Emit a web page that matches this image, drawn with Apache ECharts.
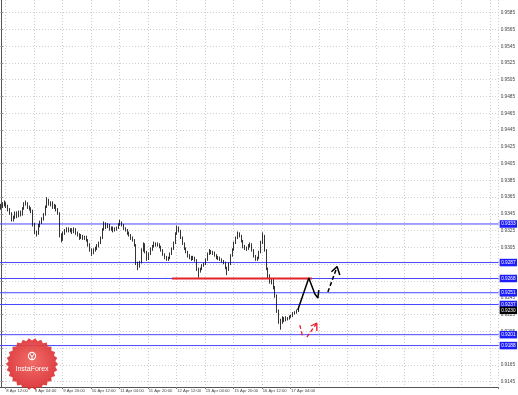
<!DOCTYPE html>
<html><head><meta charset="utf-8">
<script src="https://cdn.jsdelivr.net/npm/echarts@6/dist/echarts.min.js"></script>
<style>html,body{margin:0;padding:0;background:#fff}#c{width:518px;height:395px}</style>
</head><body><div id="c"></div>
<script>
// x-axis tick labels (every 16 H1 bars, first at bar 3)
const tickLabels = ['8 Apr 12:00','9 Apr 04:00','9 Apr 20:00','10 Apr 12:00','11 Apr 04:00','11 Apr 20:00','12 Apr 12:00','15 Apr 04:00','15 Apr 20:00','16 Apr 12:00','17 Apr 04:00'];
const firstTickBar = 3, barsPerTick = 16, totalSlots = 280;
// price-axis tick labels
const yTicks = [0.9145,0.9165,0.9185,0.9205,0.9225,0.9245,0.9265,0.9285,0.9305,0.9325,0.9345,0.9365,
  0.9385,0.9405,0.9425,0.9445,0.9465,0.9485,0.9505,0.9525,0.9545,0.9565,0.9585];
// H1 candles: [open, close, low, high]
const candles = [
[0.9352,0.9354,0.9350,0.9357],[0.9354,0.9356,0.9352,0.9359],[0.9356,0.9358,0.9354,0.9361],[0.9358,0.9354,0.9352,0.9359],
[0.9354,0.9350,0.9348,0.9356],[0.9350,0.9346,0.9344,0.9352],[0.9346,0.9338,0.9336,0.9347],[0.9338,0.9340,0.9336,0.9343],
[0.9340,0.9346,0.9339,0.9348],[0.9346,0.9342,0.9340,0.9348],[0.9342,0.9347,0.9341,0.9349],[0.9347,0.9344,0.9342,0.9349],
[0.9344,0.9351,0.9343,0.9353],[0.9351,0.9357,0.9350,0.9359],[0.9357,0.9358,0.9355,0.9361],[0.9358,0.9353,0.9351,0.9359],
[0.9353,0.9351,0.9349,0.9355],[0.9351,0.9349,0.9346,0.9353],[0.9349,0.9332,0.9330,0.9350],[0.9332,0.9323,0.9321,0.9334],
[0.9323,0.9321,0.9318,0.9325],[0.9321,0.9331,0.9320,0.9333],[0.9331,0.9335,0.9329,0.9337],[0.9335,0.9339,0.9333,0.9341],
[0.9339,0.9344,0.9337,0.9346],[0.9344,0.9353,0.9343,0.9355],[0.9353,0.9362,0.9352,0.9365],[0.9362,0.9357,0.9355,0.9363],
[0.9357,0.9358,0.9354,0.9360],[0.9358,0.9353,0.9351,0.9360],[0.9353,0.9355,0.9351,0.9357],[0.9355,0.9350,0.9348,0.9356],
[0.9350,0.9346,0.9344,0.9352],[0.9346,0.9320,0.9317,0.9347],[0.9320,0.9314,0.9311,0.9322],[0.9314,0.9322,0.9313,0.9324],
[0.9322,0.9325,0.9320,0.9327],[0.9325,0.9327,0.9323,0.9329],[0.9327,0.9325,0.9323,0.9329],[0.9325,0.9326,0.9323,0.9328],
[0.9326,0.9323,0.9321,0.9328],[0.9323,0.9327,0.9322,0.9329],[0.9327,0.9322,0.9320,0.9328],[0.9322,0.9320,0.9318,0.9324],
[0.9320,0.9316,0.9314,0.9322],[0.9316,0.9319,0.9315,0.9321],[0.9319,0.9316,0.9314,0.9320],[0.9316,0.9317,0.9314,0.9319],
[0.9317,0.9314,0.9312,0.9319],[0.9314,0.9309,0.9306,0.9315],[0.9309,0.9303,0.9300,0.9310],[0.9303,0.9298,0.9295,0.9304],
[0.9298,0.9302,0.9297,0.9304],[0.9302,0.9304,0.9300,0.9306],[0.9304,0.9307,0.9302,0.9309],[0.9307,0.9310,0.9305,0.9312],
[0.9310,0.9316,0.9309,0.9318],[0.9316,0.9326,0.9315,0.9328],[0.9326,0.9334,0.9325,0.9336],[0.9334,0.9329,0.9327,0.9335],
[0.9329,0.9332,0.9328,0.9334],[0.9332,0.9327,0.9325,0.9333],[0.9327,0.9328,0.9325,0.9330],[0.9328,0.9325,0.9323,0.9330],
[0.9325,0.9327,0.9324,0.9329],[0.9327,0.9328,0.9325,0.9330],[0.9328,0.9332,0.9327,0.9334],[0.9332,0.9335,0.9331,0.9338],
[0.9335,0.9332,0.9330,0.9336],[0.9332,0.9328,0.9326,0.9333],[0.9328,0.9326,0.9324,0.9329],[0.9326,0.9322,0.9320,0.9327],
[0.9322,0.9320,0.9318,0.9324],[0.9320,0.9316,0.9314,0.9321],[0.9316,0.9314,0.9312,0.9318],[0.9314,0.9308,0.9306,0.9315],
[0.9308,0.9286,0.9284,0.9309],[0.9286,0.9282,0.9278,0.9288],[0.9282,0.9287,0.9281,0.9289],[0.9287,0.9302,0.9286,0.9304],
[0.9302,0.9309,0.9300,0.9311],[0.9309,0.9300,0.9298,0.9310],[0.9300,0.9291,0.9289,0.9301],[0.9291,0.9297,0.9290,0.9299],
[0.9297,0.9303,0.9296,0.9305],[0.9303,0.9306,0.9301,0.9308],[0.9306,0.9310,0.9305,0.9312],[0.9310,0.9308,0.9306,0.9311],
[0.9308,0.9309,0.9306,0.9311],[0.9309,0.9306,0.9304,0.9310],[0.9306,0.9302,0.9300,0.9307],[0.9302,0.9297,0.9295,0.9303],
[0.9297,0.9293,0.9291,0.9298],[0.9293,0.9291,0.9289,0.9295],[0.9291,0.9292,0.9289,0.9294],[0.9292,0.9297,0.9291,0.9299],
[0.9297,0.9303,0.9296,0.9305],[0.9303,0.9310,0.9302,0.9312],[0.9310,0.9321,0.9309,0.9323],[0.9321,0.9328,0.9320,0.9331],
[0.9328,0.9325,0.9323,0.9330],[0.9325,0.9317,0.9315,0.9326],[0.9317,0.9310,0.9308,0.9318],[0.9310,0.9304,0.9302,0.9311],
[0.9304,0.9300,0.9298,0.9305],[0.9300,0.9295,0.9293,0.9301],[0.9295,0.9293,0.9291,0.9297],[0.9293,0.9291,0.9289,0.9295],
[0.9291,0.9293,0.9290,0.9295],[0.9293,0.9290,0.9288,0.9294],[0.9290,0.9280,0.9277,0.9291],[0.9280,0.9276,0.9269,0.9281],
[0.9276,0.9279,0.9275,0.9281],[0.9279,0.9283,0.9278,0.9285],[0.9283,0.9285,0.9282,0.9287],[0.9285,0.9290,0.9284,0.9292],
[0.9290,0.9297,0.9289,0.9299],[0.9297,0.9301,0.9296,0.9303],[0.9301,0.9299,0.9297,0.9302],[0.9299,0.9298,0.9296,0.9301],
[0.9298,0.9296,0.9294,0.9300],[0.9296,0.9293,0.9291,0.9297],[0.9293,0.9292,0.9290,0.9295],[0.9292,0.9291,0.9289,0.9294],
[0.9291,0.9289,0.9287,0.9292],[0.9289,0.9287,0.9285,0.9290],[0.9287,0.9281,0.9279,0.9288],[0.9281,0.9278,0.9272,0.9282],
[0.9278,0.9285,0.9277,0.9287],[0.9285,0.9295,0.9284,0.9297],[0.9295,0.9302,0.9294,0.9304],[0.9302,0.9310,0.9301,0.9312],
[0.9310,0.9316,0.9309,0.9318],[0.9316,0.9321,0.9315,0.9324],[0.9321,0.9319,0.9317,0.9323],[0.9319,0.9313,0.9311,0.9320],
[0.9313,0.9306,0.9304,0.9314],[0.9306,0.9304,0.9302,0.9308],[0.9304,0.9303,0.9301,0.9306],[0.9303,0.9307,0.9302,0.9309],
[0.9307,0.9309,0.9305,0.9311],[0.9309,0.9302,0.9300,0.9310],[0.9302,0.9295,0.9293,0.9303],[0.9295,0.9291,0.9289,0.9296],
[0.9291,0.9292,0.9289,0.9294],[0.9292,0.9299,0.9291,0.9301],[0.9299,0.9310,0.9298,0.9313],[0.9310,0.9319,0.9309,0.9323],
[0.9319,0.9302,0.9300,0.9320],[0.9302,0.9280,0.9278,0.9303],[0.9280,0.9271,0.9268,0.9281],[0.9271,0.9265,0.9262,0.9273],
[0.9265,0.9266,0.9261,0.9268],[0.9266,0.9258,0.9255,0.9268],[0.9258,0.9248,0.9245,0.9259],[0.9248,0.9230,0.9227,0.9249],
[0.9230,0.9218,0.9214,0.9231],[0.9218,0.9216,0.9207,0.9220],[0.9216,0.9221,0.9214,0.9223],[0.9221,0.9218,0.9216,0.9222],
[0.9218,0.9221,0.9217,0.9223],[0.9221,0.9220,0.9218,0.9222],[0.9220,0.9222,0.9219,0.9224],[0.9222,0.9223,0.9221,0.9225],
[0.9223,0.9226,0.9222,0.9228],[0.9226,0.9227,0.9225,0.9229],[0.9227,0.9229,0.9226,0.9231],[0.9229,0.9230,0.9228,0.9232]
];
// horizontal levels (blue) and current price
const levels = [0.9333, 0.9287, 0.9268, 0.9251, 0.9237, 0.9201, 0.9188];
const currentPrice = 0.9230;
// drawings: [bar index, price]
const resistanceLine = [[96.0, 0.9268], [174.6, 0.9268]];
const mainPath = [[166.7, 0.92304], [172.9, 0.92686], [176.3, 0.92495], [178.0, 0.92447], [178.5, 0.92543]];
const mainUp = [[183.6, 0.92519], [188.8, 0.92821]];
const mainUpHead = [[185.6, 0.92761], [188.8, 0.92821], [190.3, 0.92722]];
const altDown = [[167.85, 0.92125], [169.5, 0.91982]];
const altUp = [[171.8, 0.91980], [177.4, 0.92149]];
const altUpHead = [[174.0, 0.92113], [177.4, 0.92149], [177.4, 0.92054]];

const FONT = 'Liberation Sans';
const cats = [];
for (let i = 0; i < totalSlots; i++) cats.push(String(i));
const isTick = idx => idx >= firstTickBar && (idx - firstTickBar) % barsPerTick === 0;
const isLabel = idx => isTick(idx) && (idx - firstTickBar) / barsPerTick < tickLabels.length;
const xL = -0.5, xR = totalSlots - 0.5;

const chart = echarts.init(document.getElementById('c'), null, {renderer: 'canvas'});

// logo starburst shape
const star = [];
const N = 26, cx = 32, cy = 364;
for (let k = 0; k < 2 * N; k++) {
  const a = k * Math.PI / N;
  const r = k % 2 === 0 ? 26 : 23.5;
  star.push([cx + r * Math.cos(a), cy + r * Math.sin(a)]);
}

function levelSeries(p, lineColor, bg, opacity) {
  return {
    type: 'line', xAxisIndex: 1, data: [[xL, p], [xR, p]], symbol: 'none', silent: true, z: 2,
    lineStyle: {color: lineColor, width: 1, opacity: opacity},
    endLabel: {show: true, formatter: p.toFixed(4), color: '#fff', backgroundColor: bg,
      fontSize: 4.7, fontFamily: FONT, padding: [1.5, 1.5, 1, 1.5], distance: 1}
  };
}

const series = [{
  type: 'candlestick', xAxisIndex: 0, barWidth: 1,
  data: candles,
  itemStyle: {color: '#000', color0: '#000', borderColor: '#000', borderColor0: '#000', borderWidth: 0.8},
  z: 3
}];
levels.forEach(p => series.push(levelSeries(p, '#4646ff', '#1c1cff', 1)));
series.push(levelSeries(currentPrice, '#000', '#000', 0));
series.push(
  {type: 'line', xAxisIndex: 1, data: resistanceLine, symbol: 'none', z: 4, lineStyle: {color: '#e3232b', width: 2}},
  {type: 'line', xAxisIndex: 1, data: mainPath, symbol: 'none', z: 5, lineStyle: {color: '#000', width: 1.5}},
  {type: 'line', xAxisIndex: 1, data: mainUp, symbol: 'none', z: 5, lineStyle: {color: '#000', width: 1.5, type: [4, 2.5]}},
  {type: 'line', xAxisIndex: 1, data: mainUpHead, symbol: 'none', z: 5, lineStyle: {color: '#000', width: 1.5}},
  {type: 'line', xAxisIndex: 1, data: altDown, symbol: 'none', z: 5, lineStyle: {color: '#ee1c25', width: 1.3, type: [4, 2.5]}},
  {type: 'line', xAxisIndex: 1, data: altUp, symbol: 'none', z: 5, lineStyle: {color: '#ee1c25', width: 1.3, type: [4, 2.5]}},
  {type: 'line', xAxisIndex: 1, data: altUpHead, symbol: 'none', z: 5, lineStyle: {color: '#ee1c25', width: 1.3}}
);

const option = {
  animation: false,
  backgroundColor: '#ffffff',
  grid: {left: 0, right: 19, top: 0, bottom: 8, containLabel: false},
  xAxis: [{
    type: 'category', data: cats, boundaryGap: true,
    axisLine: {show: true, lineStyle: {color: '#555', width: 1}},
    axisTick: {show: true, length: 2, interval: (i) => isLabel(i), lineStyle: {color: '#777'}},
    axisLabel: {interval: (i) => isLabel(i), formatter: (v, i) => tickLabels[(i - firstTickBar) / barsPerTick],
      align: 'left', fontSize: 4.2, color: '#444', margin: 2, fontFamily: FONT},
    splitLine: {show: true, interval: (i) => isTick(i), lineStyle: {color: '#cfcfcf', type: [1, 2], width: 1}}
  }, {
    type: 'value', min: xL, max: xR, show: false
  }],
  yAxis: {
    type: 'value', position: 'right', min: 0.91386, max: 0.96001, scale: true,
    axisLine: {show: true, lineStyle: {color: '#555', width: 1}},
    axisTick: {show: true, length: 2, customValues: yTicks, lineStyle: {color: '#888'}},
    axisLabel: {fontSize: 4.7, color: '#444', margin: 2, customValues: yTicks,
      formatter: v => v.toFixed(4), fontFamily: FONT},
    splitLine: {show: true, lineStyle: {color: '#cfcfcf', type: [1, 2], width: 1}}
  },
  series: series,
  graphic: [{
    type: 'polygon', z: 100, shape: {points: star},
    style: {fill: new echarts.graphic.RadialGradient(0.5, 0.45, 0.6, [
      {offset: 0, color: '#f0605c'}, {offset: 1, color: '#d8262a'}]), opacity: 0.92}
  }, {
    type: 'circle', z: 101, shape: {cx: 32, cy: 356, r: 3.6},
    style: {fill: 'none', stroke: '#fff', lineWidth: 1.1}
  }, {
    type: 'polyline', z: 101, shape: {points: [[30, 354], [32, 357], [34, 354]]},
    style: {stroke: '#fff', lineWidth: 1, fill: 'none'}
  }, {
    type: 'line', z: 101, shape: {x1: 32, y1: 357, x2: 32, y2: 360},
    style: {stroke: '#fff', lineWidth: 1}
  }, {
    type: 'text', z: 101, x: 32, y: 369,
    style: {text: 'InstaForex', fill: '#fff', font: '7px "Liberation Sans"', align: 'center', verticalAlign: 'middle'}
  }]
};
chart.setOption(option);
</script></body></html>
